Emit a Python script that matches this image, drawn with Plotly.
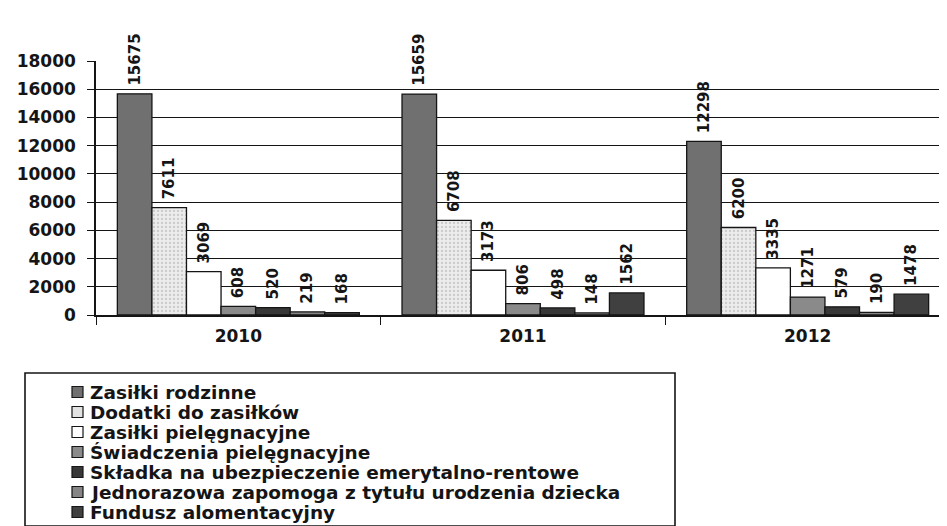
import plotly.graph_objects as go

years = ["2010", "2011", "2012"]
series_names = [
    "Zasiłki rodzinne",
    "Dodatki do zasiłków",
    "Zasiłki pielęgnacyjne",
    "Świadczenia pielęgnacyjne",
    "Składka na ubezpieczenie emerytalno-rentowe",
    "Jednorazowa zapomoga z tytułu urodzenia dziecka",
    "Fundusz alomentacyjny",
]
zasilki_rodzinne = [15675, 15659, 12298]
dodatki = [7611, 6708, 6200]
zasilki_pieleg = [3069, 3173, 3335]
swiadczenia = [608, 806, 1271]
skladka = [520, 498, 579]
jednorazowa = [219, 148, 190]
fundusz = [168, 1562, 1478]
series_values = [zasilki_rodzinne, dodatki, zasilki_pieleg, swiadczenia,
                 skladka, jednorazowa, fundusz]
colors = ["#707070", "#e2e2e2", "#ffffff", "#8a8a8a", "#383838", "#858585", "#404040"]
yticks = [0, 2000, 4000, 6000, 8000, 10000, 12000, 14000, 16000, 18000]

FONT = "DejaVu Sans, Verdana, sans-serif"
INK = "#151515"

# plot area geometry (px)
W, H = 947, 526
ML, MR, MT, MB = 88, 5, 53, 219
PW, PH = W - ML - MR, H - MT - MB


def px_x(px):
    return (px - ML) / PW


def px_y(py):
    return (H - MB - py) / PH


fig = go.Figure()
for name, vals, col in zip(series_names, series_values, colors):
    marker = dict(color=col, line=dict(color=INK, width=1.3))
    if col == "#e2e2e2":
        marker["pattern"] = dict(shape=".", fgcolor="#a8a8a8", bgcolor="#ececec",
                                 size=4, solidity=0.25)
    fig.add_trace(go.Bar(
        x=years, y=vals, name=name, marker=marker,
        text=[str(v) for v in vals],
        texttemplate="\u00a0%{text}", textposition="outside", textangle=-90,
        textfont=dict(family=FONT, size=15, color=INK, weight="bold"),
        cliponaxis=False, showlegend=False,
    ))

fig.update_layout(
    width=W, height=H,
    paper_bgcolor="white", plot_bgcolor="white",
    barmode="group", bargap=0.15, bargroupgap=0,
    margin=dict(l=ML, r=MR, t=MT, b=MB, autoexpand=False),
    uniformtext=dict(mode="show", minsize=15),
    font=dict(family=FONT, color=INK),
    showlegend=False,
)
fig.update_yaxes(
    range=[0, 18000], tickvals=yticks, ticktext=[str(v) for v in yticks],
    showgrid=True, gridcolor=INK, gridwidth=1.4,
    showline=True, linecolor=INK, linewidth=1.6,
    ticks="outside", ticklen=7, tickcolor=INK, tickwidth=1.4,
    ticklabelstandoff=8,
    tickfont=dict(family=FONT, size=17, color=INK, weight="bold"),
    zeroline=False,
)
fig.update_xaxes(
    showline=True, linecolor=INK, linewidth=1.6,
    ticks="outside", tickson="boundaries", ticklen=8, tickcolor=INK, tickwidth=1.4,
    ticklabelstandoff=5,
    tickfont=dict(family=FONT, size=17, color=INK, weight="bold"),
)
# right wall edge
fig.add_shape(type="line", xref="paper", yref="paper", x0=1, x1=1, y0=0.06, y1=1.1,
              line=dict(color=INK, width=1.5))

# legend box (manual)
box_l, box_r, box_t, box_b = 17, 667, 365, 518
fig.add_shape(type="rect", xref="paper", yref="paper",
              x0=px_x(box_l), x1=px_x(box_r), y0=px_y(box_b), y1=px_y(box_t),
              line=dict(color=INK, width=1.6), fillcolor="white", layer="above")
first_line, step = 384, 20
sq = 11
for i, (name, col) in enumerate(zip(series_names, colors)):
    cy = first_line + i * step
    fig.add_shape(type="rect", xref="paper", yref="paper",
                  x0=px_x(64), x1=px_x(64 + sq), y0=px_y(cy + sq / 2), y1=px_y(cy - sq / 2),
                  line=dict(color=INK, width=1.2), fillcolor=col, layer="above")
    fig.add_annotation(xref="paper", yref="paper", x=px_x(80), y=px_y(cy),
                       xanchor="left", yanchor="middle", showarrow=False, text=name,
                       font=dict(family=FONT, size=18.5, color=INK, weight="bold"))

fig.write_html("out.html")
